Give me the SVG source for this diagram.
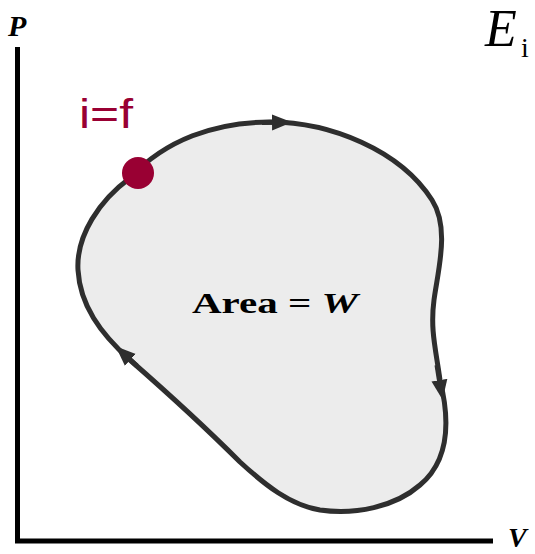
<svg xmlns="http://www.w3.org/2000/svg" width="535" height="554" viewBox="0 0 535 554">
<style>
.axis{stroke:#000;stroke-width:5;fill:none}
.loop{fill:#ececec;stroke:#2e2e2e;stroke-width:5}
.serif{font-family:"Liberation Serif","DejaVu Serif",serif}
</style>
<defs>
<marker id="ah" viewBox="0 0 10 10" refX="5" refY="5" markerWidth="4" markerHeight="4" orient="auto"><path d="M0,1 L10,5 L0,9 z" fill="#2e2e2e"/></marker>
</defs>
<rect width="535" height="554" fill="#fff"/>
<g id="axes">
<path class="axis" d="M17.5,47 V541 H493"/>
<text class="serif" x="8" y="36" font-size="30" font-weight="bold" font-style="italic">P</text>
<text class="serif" x="508" y="547" font-size="28" font-weight="bold" font-style="italic">V</text>
</g>
<g id="cycle">
<path class="loop" d="M130,178 C165,140 215,122 270,122 C330,122 400,150 432,200 C450,228 438,270 434,300 C430,330 436,350 440,380 C450,420 450,460 420,485 C395,507 355,515 320,510 C290,505 265,485 240,462 C210,432 170,395 130,360 C100,333 80,305 78,270 C76,235 100,200 130,178 Z"/>
<text class="serif" x="192" y="313" font-size="30" font-weight="bold" textLength="166" lengthAdjust="spacingAndGlyphs">Area = <tspan font-style="italic">W</tspan></text>
</g>
<g id="connectors">
<path d="M262,122.5 L282,122.3" stroke="#2e2e2e" stroke-width="5" marker-end="url(#ah)"/>
<path d="M437,365 L441,390" stroke="#2e2e2e" stroke-width="5" marker-end="url(#ah)"/>
<path d="M137,366 L123,353" stroke="#2e2e2e" stroke-width="5" marker-end="url(#ah)"/>
</g>
<g id="state">
<circle cx="138" cy="173" r="16" fill="#990033"/>
<text x="79" y="128" font-family="Liberation Sans, Arial, sans-serif" font-size="40" fill="#990033" textLength="54" lengthAdjust="spacingAndGlyphs">i=f</text>
</g>
<g id="title">
<text class="serif" x="485" y="46" font-size="52" font-style="italic">E</text>
<text class="serif" x="521" y="57" font-size="28">i</text>
</g>
</svg>
